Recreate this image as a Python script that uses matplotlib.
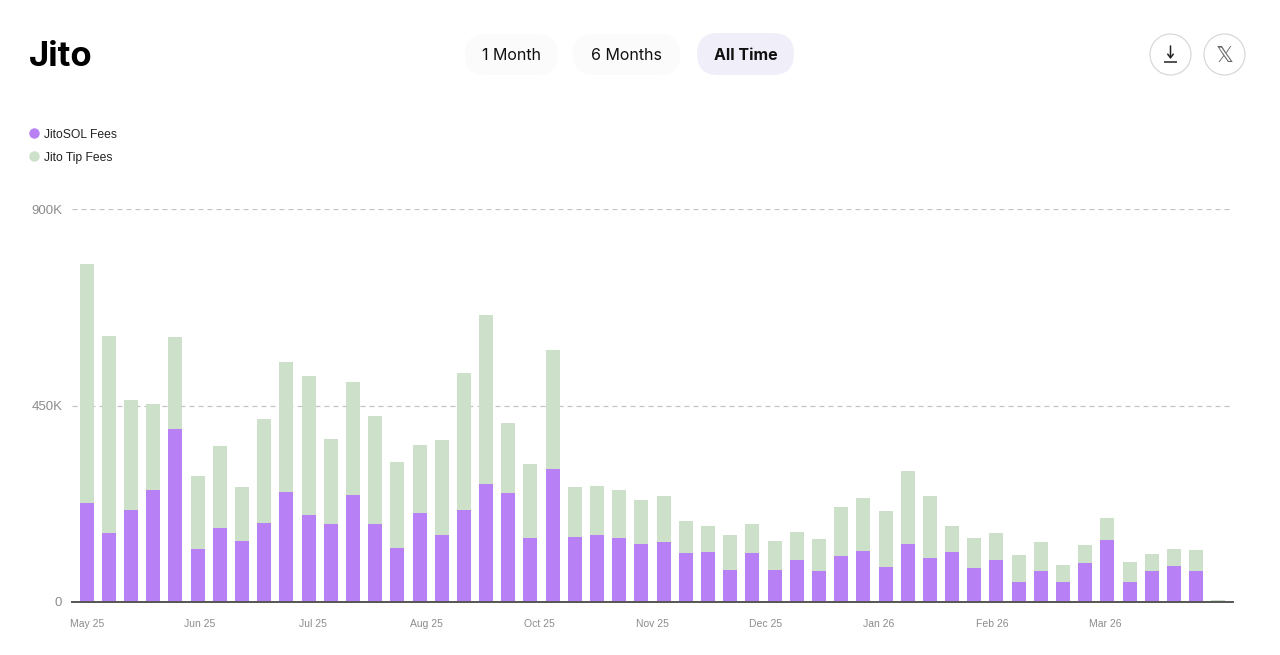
"""Jito fees: weekly stacked bars with the page header around them."""
import matplotlib
matplotlib.use("Agg")
import matplotlib.pyplot as plt
import numpy as np
from matplotlib.patches import Circle, FancyBboxPatch

plt.rcParams["font.family"] = ["Inter", "DejaVu Sans"]

# values in thousands
jitosol_fees = [226, 158, 212, 256, 397, 122, 170, 139, 182, 252, 199, 178, 246,
                180, 124, 203, 154, 211, 271, 249, 146, 305, 149, 154, 146, 133,
                138, 112, 115, 74, 112, 73, 96, 71, 105, 118, 81, 133, 102, 115,
                78, 96, 45, 72, 45, 89, 142, 47, 71, 82, 70, 3]
total_fees = [776, 610, 463, 453, 607, 288, 358, 263, 419, 550, 518, 374, 504,
              426, 320, 360, 372, 525, 659, 411, 317, 577, 263, 267, 256, 234,
              242, 185, 175, 154, 180, 139, 160, 144, 218, 239, 208, 301, 244,
              174, 147, 159, 107, 137, 85, 131, 193, 91, 111, 122, 119, 4]
tip_fees = [t - s for t, s in zip(total_fees, jitosol_fees)]

month_labels = ["May 25", "Jun 25", "Jul 25", "Aug 25", "Oct 25", "Nov 25",
                "Dec 25", "Jan 26", "Feb 26", "Mar 26"]
y_ticks = [0, 450, 900]
y_labels = ["0", "450K", "900K"]
legend_names = ["JitoSOL Fees", "Jito Tip Fees"]

PURPLE = "#b780f5"
GREEN = "#cde0c9"
GREY = "#8c8c8c"
TICK_FONT = ["Liberation Sans", "DejaVu Sans"]
W, H = 1280, 655
MONTH_STEP = 5.10  # month labels do not sit on bar centres

fig = plt.figure(figsize=(W / 100, H / 100), dpi=100, facecolor="white")

ax = fig.add_axes([72 / W, 1 - 602 / H, (1233 - 72) / W, (602 - 209.5) / H])
x = np.arange(len(total_fees))
ax.bar(x, jitosol_fees, width=0.63, color=PURPLE, zorder=3)
ax.bar(x, tip_fees, width=0.63, bottom=jitosol_fees, color=GREEN, zorder=3)
ax.set_xlim(-0.662, 51.66)
ax.set_ylim(0, 900)

ax.set_yticks(y_ticks, y_labels, family=TICK_FONT)
ax.set_xticks(np.arange(len(month_labels)) * MONTH_STEP, month_labels, family=TICK_FONT)
ax.tick_params(axis="y", length=0, pad=7, labelsize=9.5, labelcolor=GREY)
ax.tick_params(axis="x", length=0, pad=12, labelsize=7.5, labelcolor=GREY)
ax.grid(True, axis="y", color="#c4c4c4", linestyle=(0, (4, 3.2)), linewidth=0.9, zorder=0)
ax.set_axisbelow(True)
for name in ["top", "right", "left"]:
    ax.spines[name].set_visible(False)
ax.spines["bottom"].set_color("#555555")
ax.spines["bottom"].set_linewidth(1.4)
ax.spines["bottom"].set_zorder(5)

# page chrome drawn in pixel coordinates
top = fig.add_axes([0, 0, 1, 1], zorder=10)
top.set_xlim(0, W)
top.set_ylim(H, 0)
top.axis("off")

top.text(29, 57, "Jito", fontsize=25, fontweight="bold", color="black", ha="left", va="center")

for (x0, x1, y0, y1), label, fill, weight in [
    ((465, 558, 34, 75), "1 Month", "#fbfbfb", "normal"),
    ((573, 680, 34, 75), "6 Months", "#fbfbfb", "normal"),
    ((697, 794, 33, 75), "All Time", "#f0eff9", "bold"),
]:
    r = (y1 - y0) / 2
    top.add_patch(FancyBboxPatch((x0 + r, y0 + r), x1 - x0 - 2 * r, 0,
                                 boxstyle=f"round,pad={r},rounding_size={r}",
                                 facecolor=fill, edgecolor="none"))
    top.text((x0 + x1) / 2, 56, label, fontsize=11.5, fontweight=weight,
             color="#111111", ha="center", va="center")

for cx in [1170.5, 1224.5]:
    top.add_patch(Circle((cx, 54.5), 20.5, facecolor="white", edgecolor="#d4d4d4", linewidth=0.8))

# download icon
top.annotate("", xy=(1170.5, 59), xytext=(1170.5, 46),
             arrowprops=dict(arrowstyle="->,head_width=0.2,head_length=0.26", color="#222222",
                             linewidth=1.1, shrinkA=0, shrinkB=0))
top.plot([1164, 1177], [61.5, 61.5], color="#222222", linewidth=1.1, solid_capstyle="butt")
top.text(1224.5, 55.5, "\U0001D54F", fontsize=16, color="#666666", ha="center", va="center",
         family="DejaVu Sans")

for y, name, color in zip([133.5, 156.5], legend_names, [PURPLE, GREEN]):
    top.add_patch(Circle((34.5, y), 5.2, facecolor=color, edgecolor="none"))
    top.text(44, y + 1, name, fontsize=8.7, color="#222222", ha="left", va="center",
             family=TICK_FONT)

fig.savefig("out.png", dpi=100)
